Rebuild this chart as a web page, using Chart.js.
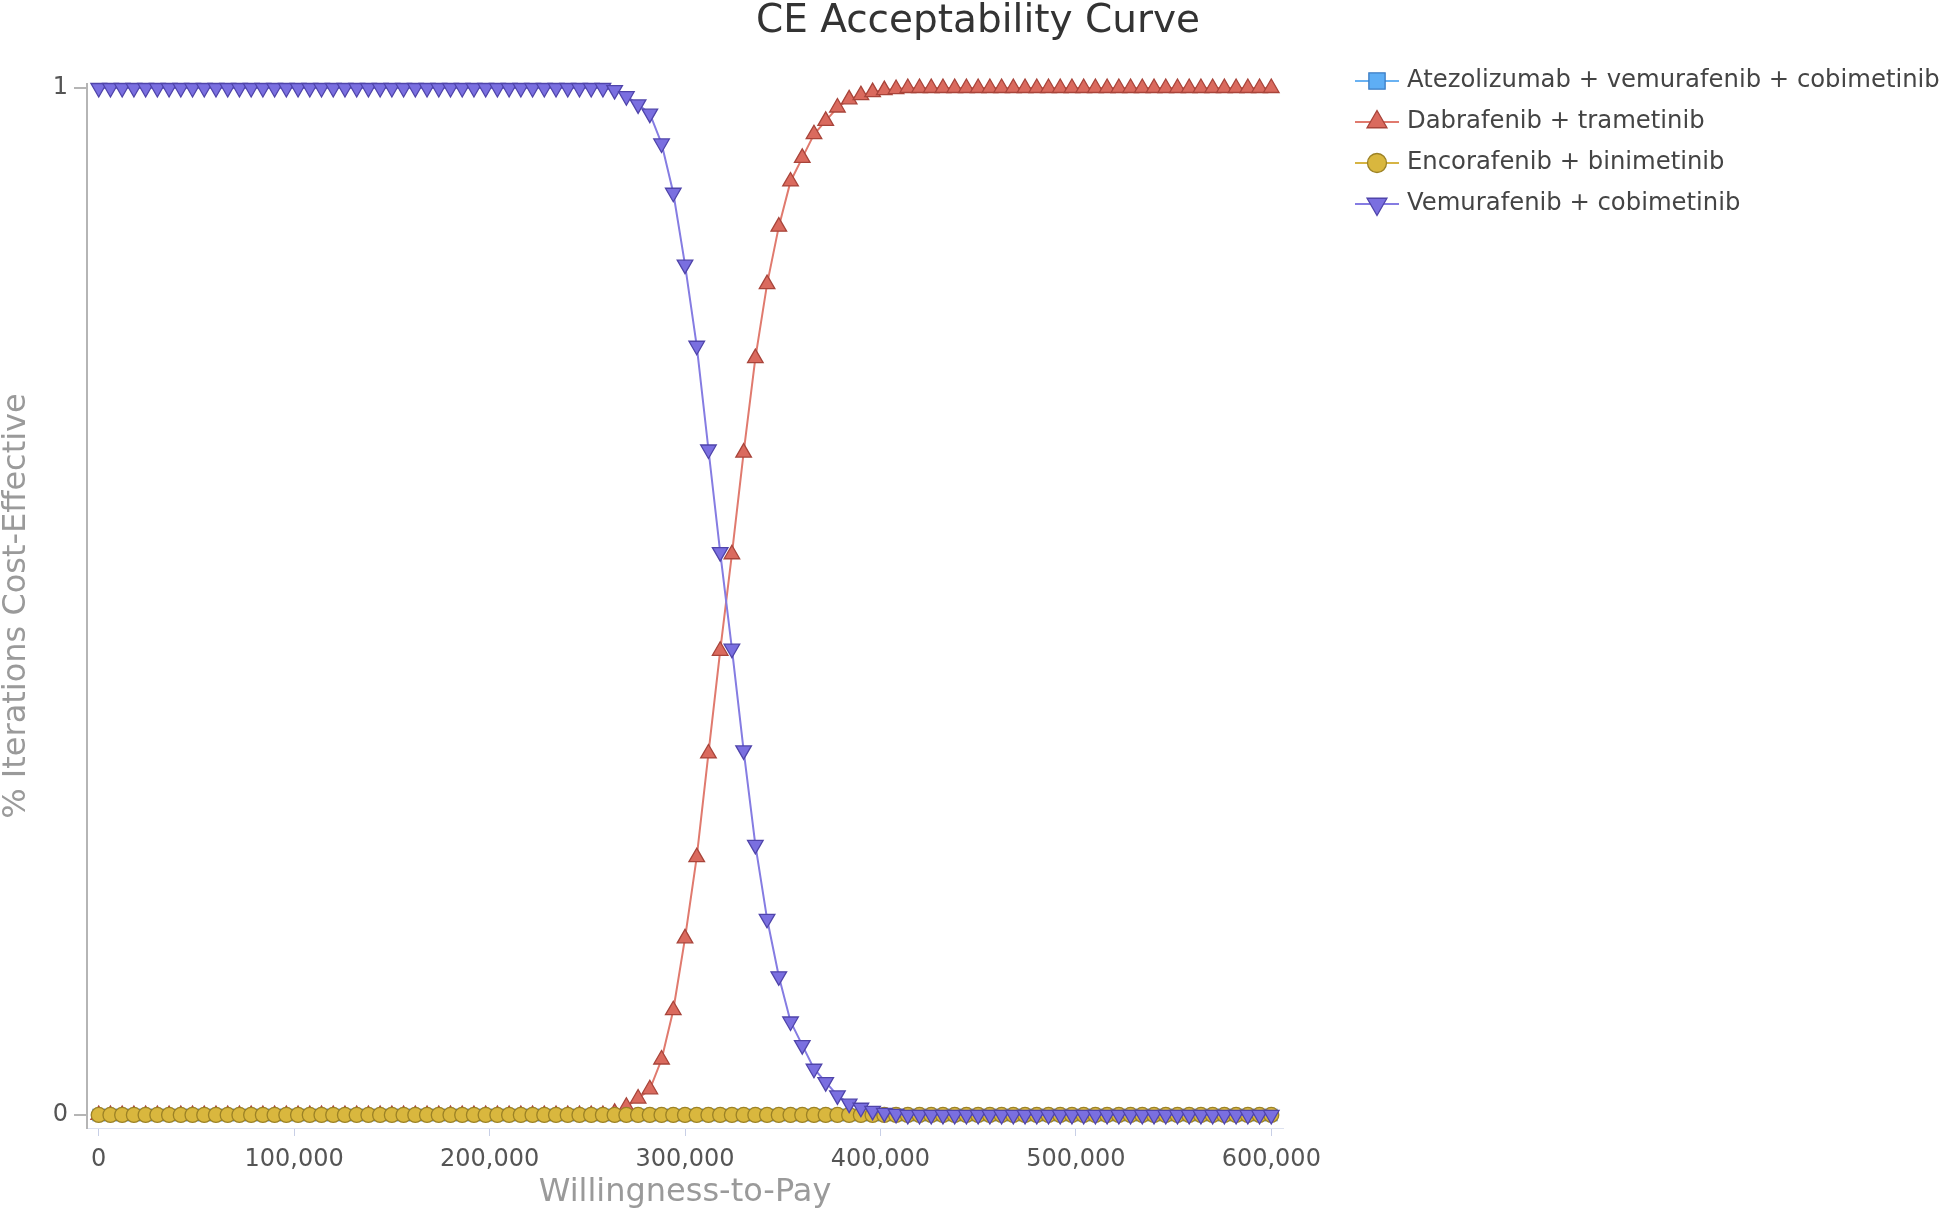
<!DOCTYPE html>
<html>
<head>
<meta charset="utf-8">
<script src="https://cdn.jsdelivr.net/npm/chart.js@4/dist/chart.umd.min.js"></script>
<style>
  html, body { margin: 0; padding: 0; background: #ffffff; }
  #wrap { width: 1944px; height: 1213px; }
</style>
</head>
<body>
<div id="wrap"><canvas id="c" width="1944" height="1213"></canvas></div>
<script>
// ---------- DATA ----------
const WTP = [
  0, 6000, 12000, 18000, 24000, 30000, 36000, 42000, 48000, 54000,
  60000, 66000, 72000, 78000, 84000, 90000, 96000, 102000, 108000, 114000,
  120000, 126000, 132000, 138000, 144000, 150000, 156000, 162000, 168000, 174000,
  180000, 186000, 192000, 198000, 204000, 210000, 216000, 222000, 228000, 234000,
  240000, 246000, 252000, 258000, 264000, 270000, 276000, 282000, 288000, 294000,
  300000, 306000, 312000, 318000, 324000, 330000, 336000, 342000, 348000, 354000,
  360000, 366000, 372000, 378000, 384000, 390000, 396000, 402000, 408000, 414000,
  420000, 426000, 432000, 438000, 444000, 450000, 456000, 462000, 468000, 474000,
  480000, 486000, 492000, 498000, 504000, 510000, 516000, 522000, 528000, 534000,
  540000, 546000, 552000, 558000, 564000, 570000, 576000, 582000, 588000, 594000,
  600000
];

const SERIES_NAMES = [
  "Atezolizumab + vemurafenib + cobimetinib",
  "Dabrafenib + trametinib",
  "Encorafenib + binimetinib",
  "Vemurafenib + cobimetinib"
];

const ATEZO = [
  0,0,0,0,0,0,0,0,0,0, 0,0,0,0,0,0,0,0,0,0,
  0,0,0,0,0,0,0,0,0,0, 0,0,0,0,0,0,0,0,0,0,
  0,0,0,0,0,0,0,0,0,0, 0,0,0,0,0,0,0,0,0,0,
  0,0,0,0,0,0,0,0,0,0, 0,0,0,0,0,0,0,0,0,0,
  0,0,0,0,0,0,0,0,0,0, 0,0,0,0,0,0,0,0,0,0,
  0
];

const DABRA = [
  0,0,0,0,0,0,0,0,0,0, 0,0,0,0,0,0,0,0,0,0,
  0,0,0,0,0,0,0,0,0,0, 0,0,0,0,0,0,0,0,0,0,
  0,0,0,0,0.002,0.008,0.016,0.025,0.054,0.102,
  0.172,0.251,0.352,0.452,0.546,0.645,0.737,0.809,0.865,0.909,
  0.932,0.955,0.968,0.981,0.989,0.993,0.996,0.998,0.999,1,
  1,1,1,1,1,1,1,1,1,1, 1,1,1,1,1,1,1,1,1,1,
  1,1,1,1,1,1,1,1,1,1, 1
];

const ENCORA = [
  0,0,0,0,0,0,0,0,0,0, 0,0,0,0,0,0,0,0,0,0,
  0,0,0,0,0,0,0,0,0,0, 0,0,0,0,0,0,0,0,0,0,
  0,0,0,0,0,0,0,0,0,0, 0,0,0,0,0,0,0,0,0,0,
  0,0,0,0,0,0,0,0,0,0, 0,0,0,0,0,0,0,0,0,0,
  0,0,0,0,0,0,0,0,0,0, 0,0,0,0,0,0,0,0,0,0,
  0
];

const VEMU = [
  1,1,1,1,1,1,1,1,1,1, 1,1,1,1,1,1,1,1,1,1,
  1,1,1,1,1,1,1,1,1,1, 1,1,1,1,1,1,1,1,1,1,
  1,1,1,1,0.998,0.992,0.984,0.975,0.946,0.898,
  0.828,0.749,0.648,0.548,0.454,0.355,0.263,0.191,0.135,0.091,
  0.068,0.045,0.032,0.019,0.011,0.007,0.004,0.002,0.001,0,
  0,0,0,0,0,0,0,0,0,0, 0,0,0,0,0,0,0,0,0,0,
  0,0,0,0,0,0,0,0,0,0, 0
];

const X_TICKS = [0, 100000, 200000, 300000, 400000, 500000, 600000];
const Y_TICKS = [0, 1];
const TITLE = 'CE Acceptability Curve';

// ---------- STYLE ----------
const FONT = "'DejaVu Sans', 'Liberation Sans', sans-serif";

function pts(arr) { return arr.map((v, i) => ({ x: WTP[i], y: v })); }

const styles = [
  { line: '#6ab2f2', fill: '#5eaef5', edge: '#3a7cc4', style: 'rect', r: 8, rot: 0, order: 4 },
  { line: '#e07a6e', fill: '#da6a5e', edge: '#a8443a', style: 'triangle', r: 9, rot: 0, order: 3 },
  { line: '#d6b444', fill: '#d9b73e', edge: '#9c8226', style: 'circle', r: 7.5, rot: 0, order: 2 },
  { line: '#857ce2', fill: '#7a6fe0', edge: '#4f44aa', style: 'triangle', r: 9, rot: 180, order: 1 }
];
const values = [ATEZO, DABRA, ENCORA, VEMU];

const datasets = values.map((arr, i) => ({
  label: SERIES_NAMES[i],
  data: pts(arr),
  borderColor: styles[i].line,
  backgroundColor: styles[i].fill,
  borderWidth: 2,
  pointStyle: styles[i].style,
  pointRadius: styles[i].r,
  pointRotation: styles[i].rot,
  pointBackgroundColor: styles[i].fill,
  pointBorderColor: styles[i].edge,
  pointBorderWidth: 1.3,
  order: styles[i].order,
  tension: 0,
  clip: false
}));

// title centred over the whole canvas + legend on the right, like the reference
const decor = {
  id: 'decor',
  afterDraw(chart) {
    const ctx = chart.ctx;
    ctx.save();
    ctx.fillStyle = '#333333';
    ctx.font = '39px ' + FONT;
    ctx.textAlign = 'center';
    ctx.textBaseline = 'middle';
    ctx.fillText(TITLE, 978, 21.5);

    const x0 = 1355, x1 = 1399, mx = 1377, tx = 1407;
    chart.data.datasets.forEach((ds, i) => {
      const y = 81 + 41 * i;
      ctx.strokeStyle = ds.borderColor;
      ctx.lineWidth = 2;
      ctx.beginPath(); ctx.moveTo(x0, y); ctx.lineTo(x1, y); ctx.stroke();
      ctx.fillStyle = ds.pointBackgroundColor;
      ctx.strokeStyle = ds.pointBorderColor;
      ctx.lineWidth = 1.3;
      Chart.helpers.drawPoint(ctx, {
        pointStyle: ds.pointStyle,
        rotation: ds.pointRotation,
        radius: ds.pointStyle === 'circle' ? 9.5 : 11.5,
        borderWidth: 1.3
      }, mx, y);
      ctx.fillStyle = '#444444';
      ctx.font = '24.3px ' + FONT;
      ctx.textBaseline = 'middle';
      ctx.textAlign = 'left';
      ctx.fillText(ds.label, tx, y);
    });
    ctx.restore();
  }
};

new Chart(document.getElementById('c'), {
  type: 'line',
  data: { datasets },
  plugins: [decor],
  options: {
    responsive: false,
    animation: false,
    devicePixelRatio: 1,
    layout: { padding: { left: 0, right: 661, top: 84, bottom: 0 } },
    plugins: {
      legend: { display: false },
      tooltip: { enabled: false },
      title: { display: false }
    },
    scales: {
      x: {
        type: 'linear',
        min: -6000,
        max: 606000,
        afterBuildTicks: (s) => { s.ticks = X_TICKS.map(v => ({ value: v })); },
        afterFit: (s) => { s.height = 85; },
        ticks: {
          color: '#555555',
          font: { family: FONT, size: 24 },
          padding: 9,
          maxRotation: 0,
          autoSkip: false,
          callback: (v) => Number(v).toLocaleString('en-US')
        },
        grid: { drawOnChartArea: false, drawTicks: true, tickLength: 8, color: '#c8cfe6', lineWidth: 1 },
        border: { display: true, color: '#dde1ef', width: 1 },
        title: {
          display: true,
          text: 'Willingness-to-Pay',
          color: '#9a9a9a',
          font: { family: FONT, size: 32, lineHeight: 1.2 },
          padding: { top: 0, bottom: 1 }
        }
      },
      y: {
        type: 'linear',
        min: -0.0127,
        max: 1.0039,
        afterBuildTicks: (s) => { s.ticks = Y_TICKS.map(v => ({ value: v })); },
        afterFit: (s) => { s.width = 87; },
        ticks: {
          color: '#555555',
          font: { family: FONT, size: 24 },
          padding: 6,
          autoSkip: false,
          callback: (v) => String(v)
        },
        grid: { drawOnChartArea: false, drawTicks: true, tickLength: 13, color: '#b5b5b5', lineWidth: 2 },
        border: { display: true, color: '#b5b5b5', width: 2 },
        title: {
          display: true,
          text: '% Iterations Cost-Effective',
          color: '#9a9a9a',
          font: { family: FONT, size: 32, lineHeight: 1.06 },
          padding: { top: 0, bottom: 0 }
        }
      }
    }
  }
});
</script>
</body>
</html>
